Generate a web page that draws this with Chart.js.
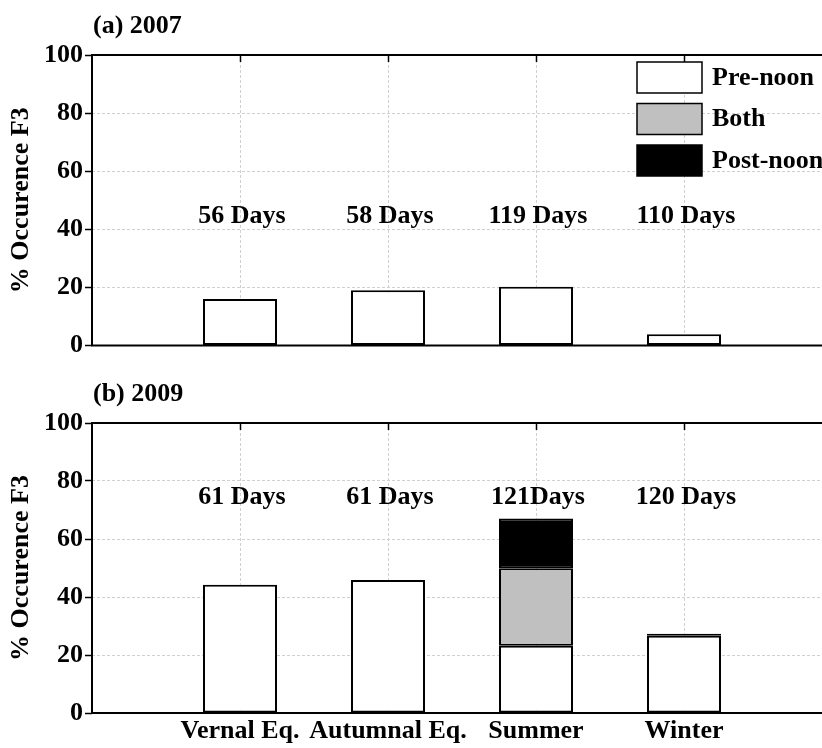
<!DOCTYPE html>
<html>
<head>
<meta charset="utf-8">
<script src="https://cdn.jsdelivr.net/npm/chart.js@4/dist/chart.umd.min.js"></script>
<style>
  html, body { margin: 0; padding: 0; overflow: hidden; background: #fff; width: 822px; height: 748px; }
  canvas.panel { position: absolute; left: 0; }
</style>
</head>
<body>
<canvas id="c2007" class="panel" width="842" height="372" style="top:0"></canvas>
<canvas id="c2009" class="panel" width="842" height="376" style="top:372px"></canvas>
<script>
// Seasons on the x axis
const categories = ['Vernal Eq.', 'Autumnal Eq.', 'Summer', 'Winter'];

// Number of observation days per season
const days2007 = ['56 Days', '58 Days', '119 Days', '110 Days'];
const days2009 = ['61 Days', '61 Days', '121Days', '120 Days'];

// % occurrence of F3 layer, split by time of day
const preNoon2007  = [16.0, 19.0, 20.2, 3.9];
const both2007     = [null, null, null, null];
const postNoon2007 = [null, null, null, null];

const preNoon2009  = [44.2, 45.9, 23.2, 26.6];
const both2009     = [null, null, 26.7, null];
const postNoon2009 = [null, null, 17.2, 0.7];

const yTicks = [0, 20, 40, 60, 80, 100];
const seriesNames = ['Pre-noon', 'Both', 'Post-noon'];

const FONT = 'Liberation Serif';
const FS = 26;
const bold = size => ({ family: FONT, size: size, weight: 'bold' });

// category axis with an empty slot at both ends so the seasons sit at 1..4
const axisLabels = ['', ...categories, ''];
const pad = arr => [null, ...arr, null];

const decor = {
  id: 'panelDecor',
  afterDatasetsDraw(chart, args, o) {
    const ctx = chart.ctx;
    const { left, right, top, bottom } = chart.chartArea;
    const xs = chart.scales.x, ys = chart.scales.y;
    ctx.save();
    // axes box
    ctx.strokeStyle = '#000';
    ctx.lineWidth = 2;
    ctx.strokeRect(left, top, right - left, bottom - top);
    // tick marks on the top edge
    ctx.lineWidth = 1.5;
    for (let i = 1; i <= categories.length; i++) {
      const x = Math.round(xs.getPixelForValue(i)) + 0.5;
      ctx.beginPath(); ctx.moveTo(x, top); ctx.lineTo(x, top + 7); ctx.stroke();
    }
    // day counts above the bars
    ctx.fillStyle = '#000';
    ctx.font = 'bold ' + FS + 'px "' + FONT + '"';
    ctx.textAlign = 'center';
    ctx.textBaseline = 'middle';
    o.days.forEach((t, i) => {
      ctx.fillText(t, xs.getPixelForValue(i + 1) + 2, ys.getPixelForValue(o.daysAt));
    });
    // panel title
    ctx.textAlign = 'left';
    ctx.fillText(o.title, left + 1, top - 29);
    // legend
    if (o.legend) {
      chart.data.datasets.forEach((ds, i) => {
        const bx = left + 545, by = top + 7 + i * 41.5;
        ctx.fillStyle = ds.backgroundColor;
        ctx.fillRect(bx, by, 65, 31);
        ctx.strokeStyle = '#000';
        ctx.lineWidth = 1.5;
        ctx.strokeRect(bx, by, 65, 31);
        ctx.fillStyle = '#000';
        ctx.fillText(ds.label, bx + 75, by + 16);
      });
    }
    ctx.restore();
  }
};

function makePanel(id, series, days, daysAt, title, opts) {
  const colors = ['#ffffff', '#c0c0c0', '#000000'];
  return new Chart(document.getElementById(id), {
    type: 'bar',
    data: {
      labels: axisLabels,
      datasets: series.map((vals, i) => ({
        label: seriesNames[i],
        data: pad(vals),
        backgroundColor: colors[i],
        borderColor: '#000',
        borderWidth: 2,
        borderSkipped: false,
        categoryPercentage: 1,
        barPercentage: 0.5
      }))
    },
    options: {
      responsive: false,
      animation: false,
      devicePixelRatio: 1,
      layout: { padding: { top: opts.padTop, right: 10, left: 0, bottom: 0 } },
      plugins: {
        legend: { display: false },
        tooltip: { enabled: false },
        panelDecor: { days: days, daysAt: daysAt, title: title, legend: opts.legend }
      },
      scales: {
        x: {
          type: 'category',
          offset: false,
          stacked: true,
          grid: { color: '#d0d0d0', lineWidth: 1, drawTicks: false, offset: false },
          border: { display: false, dash: [3, 2] },
          ticks: {
            display: opts.xLabels, color: '#000', font: bold(FS), padding: 3,
            maxRotation: 0, autoSkip: false
          },
          afterFit: s => { s.height = opts.xHeight; }
        },
        y: {
          min: 0, max: 100,
          stacked: true,
          afterBuildTicks: s => { s.ticks = yTicks.map(v => ({ value: v })); },
          ticks: { color: '#000', font: bold(FS), padding: 2 },
          grid: { color: '#d0d0d0', lineWidth: 1, drawTicks: true, tickLength: 7, tickColor: '#000', tickWidth: 1.5 },
          border: { display: false, dash: [3, 2] },
          title: { display: true, text: '% Occurence F3', color: '#000', font: bold(FS), padding: { top: 6, bottom: 0 } },
          afterFit: s => { s.width = 92; }
        }
      }
    },
    plugins: [decor]
  });
}

makePanel('c2007', [preNoon2007, both2007, postNoon2007], days2007, 44.5, '(a) 2007',
  { padTop: 55, xHeight: 26.5, xLabels: false, legend: true });
makePanel('c2009', [preNoon2009, both2009, postNoon2009], days2009, 74.5, '(b) 2009',
  { padTop: 51, xHeight: 35, xLabels: true, legend: false });
</script>
</body>
</html>
